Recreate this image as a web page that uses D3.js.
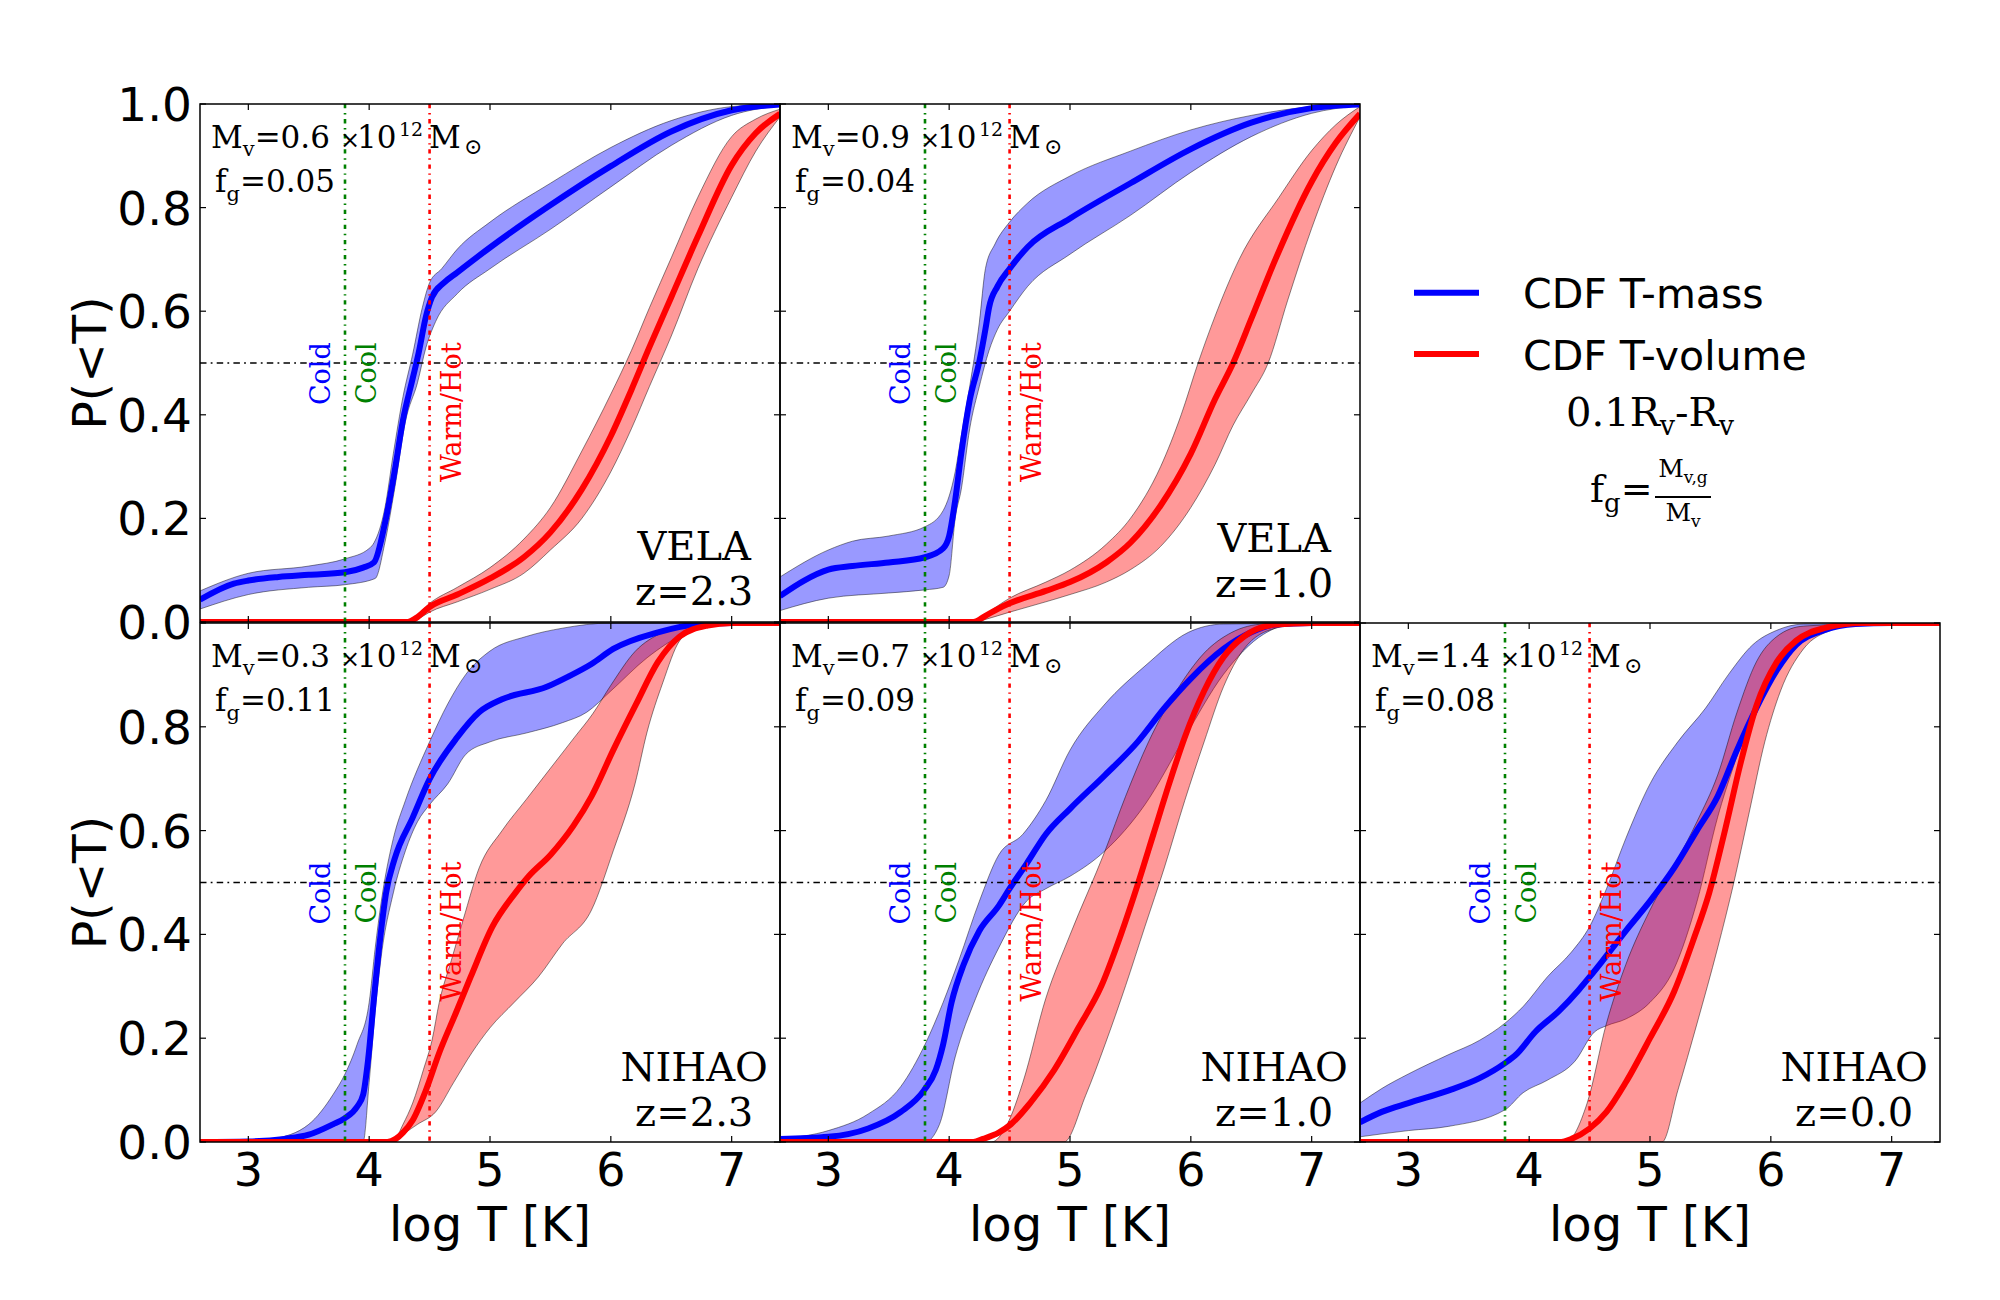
<!DOCTYPE html>
<html><head><meta charset="utf-8">
<script src="https://cdn.jsdelivr.net/npm/d3@7"></script>
<style>body{margin:0;background:#fff} svg{display:block}</style>
</head><body>
<svg id="chart" width="2000" height="1300"></svg>
<script>
// ---------------- DATA ----------------
const xDomain = [2.6, 7.4];
const xTicks = [3, 4, 5, 6, 7];
const yTicks = [0, 0.2, 0.4, 0.6, 0.8, 1.0];
const yTickLabels = ["0.0", "0.2", "0.4", "0.6", "0.8", "1.0"];
const coldCut = 3.8, warmCut = 4.5, halfLevel = 0.5;
const gasLabels = ["Cold", "Cool", "Warm/Hot"];
const legendLabels = ["CDF T-mass", "CDF T-volume"];

const panelSims = ["VELA", "VELA", "NIHAO", "NIHAO", "NIHAO"];
const panelZ = ["z=2.3", "z=1.0", "z=2.3", "z=1.0", "z=0.0"];
const panelMv = ["0.6", "0.9", "0.3", "0.7", "1.4"];
const panelFg = ["0.05", "0.04", "0.11", "0.09", "0.08"];

// VELA z=2.3
const massMed1 = [[2.6,0.043],[2.88,0.074],[3.0,0.08],[3.25,0.087],[3.5,0.091],[3.8,0.096],[3.95,0.105],[4.04,0.115],[4.13,0.19],[4.21,0.29],[4.28,0.39],[4.36,0.47],[4.41,0.52],[4.47,0.59],[4.52,0.627],[4.62,0.655],[4.73,0.675],[5.0,0.723],[5.47,0.80],[6.0,0.88],[6.5,0.947],[7.0,0.988],[7.4,0.999]];
const massHi1 = [[2.6,0.06],[3.0,0.094],[3.5,0.108],[3.8,0.122],[4.0,0.142],[4.04,0.153],[4.13,0.22],[4.2,0.325],[4.28,0.435],[4.36,0.517],[4.44,0.607],[4.5,0.655],[4.6,0.682],[4.73,0.72],[5.0,0.772],[5.5,0.847],[6.0,0.916],[6.5,0.968],[7.0,0.995],[7.4,1.0]];
const massLo1 = [[2.6,0.025],[3.0,0.053],[3.5,0.067],[3.8,0.072],[4.05,0.084],[4.13,0.153],[4.21,0.256],[4.3,0.387],[4.4,0.462],[4.47,0.53],[4.55,0.58],[4.73,0.634],[5.0,0.682],[5.5,0.758],[6.0,0.84],[6.5,0.92],[7.0,0.978],[7.4,0.997]];
const volMed1 = [[2.6,0],[4.32,0],[4.39,0.008],[4.5,0.029],[4.73,0.053],[5.0,0.084],[5.28,0.125],[5.5,0.173],[5.76,0.256],[6.0,0.359],[6.17,0.448],[6.32,0.531],[6.5,0.627],[6.72,0.744],[7.0,0.882],[7.2,0.944],[7.4,0.981]];
const volHi1 = [[2.6,0],[4.3,0],[4.38,0.01],[4.5,0.036],[4.73,0.067],[5.0,0.105],[5.28,0.16],[5.5,0.221],[5.76,0.33],[6.0,0.44],[6.17,0.524],[6.32,0.607],[6.5,0.703],[6.72,0.82],[7.0,0.937],[7.2,0.971],[7.4,0.99]];
const volLo1 = [[2.6,0],[4.34,0],[4.42,0.008],[4.5,0.019],[4.73,0.039],[5.0,0.063],[5.28,0.094],[5.5,0.139],[5.76,0.20],[6.0,0.29],[6.17,0.373],[6.32,0.455],[6.5,0.552],[6.72,0.682],[7.0,0.82],[7.2,0.909],[7.4,0.975]];

// VELA z=1.0
const massMed2 = [[2.6,0.05],[2.8,0.08],[3.0,0.101],[3.2,0.108],[3.5,0.115],[3.8,0.125],[3.95,0.142],[4.0,0.166],[4.05,0.235],[4.1,0.325],[4.17,0.428],[4.25,0.503],[4.3,0.565],[4.33,0.607],[4.4,0.648],[4.5,0.682],[4.65,0.724],[5.0,0.779],[5.5,0.847],[6.0,0.913],[6.5,0.964],[7.0,0.992],[7.4,0.999]];
const massHi2 = [[2.6,0.087],[3.0,0.139],[3.2,0.156],[3.5,0.166],[3.8,0.184],[3.95,0.215],[4.05,0.29],[4.1,0.359],[4.17,0.455],[4.25,0.579],[4.3,0.682],[4.38,0.73],[4.5,0.772],[4.65,0.809],[5.0,0.861],[5.5,0.909],[6.0,0.95],[6.5,0.978],[7.0,0.995],[7.4,1.0]];
const massLo2 = [[2.6,0.022],[3.0,0.046],[3.5,0.056],[3.8,0.062],[3.95,0.067],[4.0,0.09],[4.05,0.2],[4.1,0.256],[4.17,0.373],[4.25,0.455],[4.33,0.524],[4.4,0.565],[4.5,0.60],[4.65,0.648],[5.0,0.71],[5.5,0.785],[6.0,0.868],[6.5,0.937],[7.0,0.982],[7.4,0.997]];
const volMed2 = [[2.6,0],[4.2,0],[4.3,0.012],[4.4,0.025],[4.5,0.036],[4.8,0.06],[5.0,0.077],[5.3,0.115],[5.5,0.153],[5.75,0.225],[6.0,0.325],[6.2,0.43],[6.35,0.5],[6.5,0.585],[6.7,0.7],[7.0,0.85],[7.2,0.925],[7.4,0.981]];
const volHi2 = [[2.6,0],[4.2,0],[4.3,0.015],[4.5,0.046],[4.8,0.077],[5.0,0.1],[5.3,0.15],[5.5,0.2],[5.75,0.3],[5.92,0.4],[6.06,0.5],[6.2,0.59],[6.4,0.7],[6.73,0.82],[7.0,0.91],[7.2,0.96],[7.4,0.995]];
const volLo2 = [[2.6,0],[4.22,0],[4.3,0.005],[4.5,0.019],[4.8,0.039],[5.0,0.053],[5.3,0.077],[5.5,0.101],[5.75,0.146],[6.0,0.221],[6.2,0.304],[6.35,0.38],[6.5,0.44],[6.64,0.5],[6.8,0.62],[7.0,0.76],[7.2,0.88],[7.4,0.975]];

// NIHAO z=2.3
const massMed4 = [[2.6,0],[3.0,0.001],[3.3,0.006],[3.5,0.014],[3.7,0.034],[3.8,0.046],[3.9,0.068],[3.95,0.091],[3.99,0.156],[4.04,0.277],[4.09,0.39],[4.14,0.48],[4.21,0.545],[4.36,0.625],[4.5,0.699],[4.73,0.78],[4.91,0.828],[5.1,0.853],[5.47,0.877],[5.65,0.897],[5.84,0.921],[6.02,0.95],[6.39,0.982],[6.7,0.997],[7.0,1.0],[7.4,1.0]];
const massHi4 = [[2.6,0],[2.9,0],[3.2,0.006],[3.5,0.034],[3.7,0.091],[3.8,0.131],[3.9,0.188],[4.0,0.269],[4.05,0.374],[4.1,0.463],[4.2,0.585],[4.3,0.658],[4.5,0.771],[4.65,0.844],[4.8,0.901],[5.0,0.946],[5.3,0.974],[5.6,0.99],[6.0,1.0],[7.4,1.0]];
const massLo4 = [[2.6,0],[3.95,0],[4.0,0.115],[4.05,0.253],[4.1,0.358],[4.2,0.48],[4.3,0.561],[4.4,0.617],[4.5,0.65],[4.65,0.69],[4.8,0.747],[5.0,0.771],[5.3,0.788],[5.6,0.808],[5.8,0.828],[6.0,0.869],[6.3,0.933],[6.6,0.978],[6.8,0.994],[7.0,0.998],[7.4,1.0]];
const volMed4 = [[2.6,0],[4.15,0],[4.22,0.006],[4.28,0.018],[4.36,0.042],[4.47,0.1],[4.58,0.172],[4.72,0.25],[4.84,0.318],[5.02,0.415],[5.21,0.48],[5.32,0.512],[5.5,0.553],[5.69,0.609],[5.84,0.666],[6.02,0.755],[6.21,0.844],[6.39,0.925],[6.57,0.974],[6.8,0.995],[7.0,1.0],[7.4,1.0]];
const volHi4 = [[2.6,0],[4.15,0],[4.21,0.004],[4.28,0.034],[4.36,0.075],[4.45,0.14],[4.52,0.196],[4.58,0.269],[4.68,0.35],[4.78,0.43],[4.91,0.528],[5.1,0.6],[5.3,0.66],[5.5,0.72],[5.7,0.78],[5.85,0.825],[6.0,0.88],[6.2,0.945],[6.43,0.982],[6.69,0.998],[7.0,1.0],[7.4,1.0]];
const volLo4 = [[2.6,0],[4.2,0],[4.3,0.018],[4.4,0.034],[4.55,0.058],[4.7,0.115],[4.85,0.172],[5.0,0.22],[5.2,0.269],[5.4,0.318],[5.6,0.382],[5.84,0.447],[6.02,0.561],[6.2,0.69],[6.3,0.79],[6.43,0.885],[6.57,0.966],[6.75,0.995],[7.0,1.0],[7.4,1.0]];

// NIHAO z=1.0
const massMed5 = [[2.6,0.006],[3.0,0.01],[3.33,0.026],[3.6,0.058],[3.79,0.099],[3.89,0.139],[3.95,0.188],[4.02,0.269],[4.12,0.342],[4.25,0.407],[4.41,0.455],[4.5,0.488],[4.64,0.536],[4.8,0.593],[5.0,0.642],[5.29,0.707],[5.56,0.771],[5.78,0.836],[6.0,0.893],[6.27,0.95],[6.5,0.982],[6.7,0.997],[7.0,1.0],[7.4,1.0]];
const massHi5 = [[2.6,0.006],[3.0,0.022],[3.33,0.054],[3.6,0.107],[3.8,0.188],[3.95,0.269],[4.08,0.35],[4.25,0.464],[4.41,0.553],[4.61,0.593],[4.8,0.658],[5.0,0.755],[5.29,0.844],[5.62,0.917],[5.98,0.982],[6.27,0.998],[7.4,1.0]];
const massLo5 = [[2.6,0],[3.8,0],[3.92,0.034],[4.05,0.164],[4.22,0.277],[4.41,0.374],[4.64,0.464],[4.8,0.488],[5.0,0.512],[5.29,0.561],[5.62,0.65],[5.95,0.78],[6.27,0.901],[6.6,0.978],[6.83,0.997],[7.4,1.0]];
const volMed5 = [[2.6,0],[4.2,0],[4.28,0.006],[4.41,0.018],[4.51,0.034],[4.67,0.075],[4.87,0.139],[5.07,0.22],[5.26,0.301],[5.42,0.399],[5.56,0.496],[5.69,0.593],[5.82,0.69],[5.95,0.78],[6.11,0.869],[6.27,0.934],[6.44,0.974],[6.7,0.997],[7.0,1.0],[7.4,1.0]];
const volHi5 = [[2.6,0],[4.35,0],[4.48,0.034],[4.61,0.115],[4.8,0.277],[5.0,0.399],[5.29,0.561],[5.46,0.666],[5.65,0.771],[5.88,0.869],[6.11,0.942],[6.34,0.982],[6.6,0.998],[7.0,1.0],[7.4,1.0]];
const volLo5 = [[2.6,0],[4.95,0],[5.13,0.09],[5.29,0.188],[5.46,0.301],[5.62,0.415],[5.78,0.528],[5.95,0.658],[6.11,0.771],[6.27,0.877],[6.44,0.95],[6.7,0.99],[7.0,1.0],[7.4,1.0]];

// NIHAO z=0.0
const massMed6 = [[2.6,0.038],[2.78,0.058],[3.0,0.075],[3.33,0.099],[3.59,0.123],[3.8,0.152],[3.89,0.168],[4.05,0.212],[4.25,0.253],[4.41,0.293],[4.5,0.318],[4.61,0.35],[4.8,0.407],[5.0,0.464],[5.2,0.528],[5.39,0.601],[5.56,0.666],[5.72,0.755],[5.88,0.836],[6.05,0.909],[6.21,0.958],[6.44,0.986],[6.7,0.998],[7.0,1.0],[7.4,1.0]];
const massHi6 = [[2.6,0.075],[2.78,0.103],[3.0,0.131],[3.33,0.168],[3.59,0.196],[3.8,0.229],[3.95,0.261],[4.15,0.318],[4.35,0.366],[4.5,0.415],[4.64,0.488],[4.8,0.585],[5.0,0.69],[5.23,0.771],[5.46,0.836],[5.65,0.901],[5.85,0.958],[6.05,0.986],[6.27,0.998],[7.4,1.0]];
const massLo6 = [[2.6,0.01],[3.0,0.022],[3.33,0.03],[3.8,0.062],[3.95,0.095],[4.15,0.119],[4.38,0.156],[4.54,0.212],[4.64,0.224],[4.8,0.237],[5.0,0.269],[5.2,0.334],[5.39,0.464],[5.56,0.626],[5.69,0.723],[5.88,0.844],[6.05,0.917],[6.27,0.974],[6.6,0.997],[7.4,1.0]];
const volMed6 = [[2.6,0],[4.25,0],[4.35,0.006],[4.5,0.026],[4.64,0.058],[4.8,0.115],[5.0,0.2],[5.2,0.29],[5.36,0.39],[5.49,0.48],[5.62,0.6],[5.75,0.73],[5.88,0.84],[6.05,0.925],[6.21,0.966],[6.44,0.99],[6.76,1.0],[7.4,1.0]];
const volHi6 = [[2.6,0],[4.3,0],[4.48,0.075],[4.64,0.229],[4.8,0.342],[5.0,0.447],[5.23,0.545],[5.39,0.618],[5.56,0.707],[5.72,0.828],[5.88,0.925],[6.05,0.974],[6.27,0.994],[7.0,1.0],[7.4,1.0]];
const volLo6 = [[2.6,0],[5.1,0],[5.23,0.099],[5.39,0.229],[5.56,0.374],[5.69,0.496],[5.82,0.634],[5.95,0.771],[6.08,0.869],[6.27,0.95],[6.5,0.986],[6.76,0.998],[7.0,1.0],[7.4,1.0]];

const panelSeries = [
  {mMed: massMed1, mHi: massHi1, mLo: massLo1, vMed: volMed1, vHi: volHi1, vLo: volLo1},
  {mMed: massMed2, mHi: massHi2, mLo: massLo2, vMed: volMed2, vHi: volHi2, vLo: volLo2},
  {mMed: massMed4, mHi: massHi4, mLo: massLo4, vMed: volMed4, vHi: volHi4, vLo: volLo4},
  {mMed: massMed5, mHi: massHi5, mLo: massLo5, vMed: volMed5, vHi: volHi5, vLo: volLo5},
  {mMed: massMed6, mHi: massHi6, mLo: massLo6, vMed: volMed6, vHi: volHi6, vLo: volLo6}
];

// ---------------- LAYOUT ----------------
const colX = [200, 780, 1360];
const rowY = [104, 623];
const rowH = [518, 519];
const panelW = 580;
const panelCells = [[0,0],[1,0],[0,1],[1,1],[2,1]];
const zLineOffset = [17, 25, 16, 16, 16];

const SANS = "DejaVu Sans, sans-serif";
const SERIF = "DejaVu Serif, serif";
const BLUE = "#0000ff", RED = "#ff0000", GREEN = "#008000";

const svg = d3.select("#chart");
const defs = svg.append("defs");

panelCells.forEach(([c, r], i) => {
  const x0 = colX[c], y0 = rowY[r], h = rowH[r];
  const x = d3.scaleLinear().domain(xDomain).range([x0, x0 + panelW]);
  const y = d3.scaleLinear().domain([0, 1]).range([y0 + h, y0]);
  const s = panelSeries[i];

  defs.append("clipPath").attr("id", "clip" + i)
    .append("rect").attr("x", x0).attr("y", y0).attr("width", panelW).attr("height", h);

  const g = svg.append("g");
  const pg = g.append("g").attr("clip-path", `url(#clip${i})`);

  const line = d3.line().x(d => x(d[0])).y(d => y(d[1])).curve(d3.curveMonotoneX);
  const band = (hi, lo) => line(hi) + line(lo.slice().reverse()).replace(/^M/, "L") + "Z";

  pg.append("path").attr("d", band(s.mHi, s.mLo))
    .attr("fill", BLUE).attr("fill-opacity", 0.4)
    .attr("stroke", "#000").attr("stroke-opacity", 0.45).attr("stroke-width", 1);
  pg.append("path").attr("d", band(s.vHi, s.vLo))
    .attr("fill", RED).attr("fill-opacity", 0.4)
    .attr("stroke", "#000").attr("stroke-opacity", 0.45).attr("stroke-width", 1);

  pg.append("path").attr("d", line(s.mMed)).attr("fill", "none")
    .attr("stroke", BLUE).attr("stroke-width", 6).attr("stroke-linejoin", "round");
  pg.append("path").attr("d", line(s.vMed)).attr("fill", "none")
    .attr("stroke", RED).attr("stroke-width", 6).attr("stroke-linejoin", "round");

  // reference lines
  pg.append("line").attr("x1", x0).attr("x2", x0 + panelW)
    .attr("y1", y(halfLevel)).attr("y2", y(halfLevel))
    .attr("stroke", "#000").attr("stroke-width", 1.3).attr("stroke-dasharray", "6.5,4.2,1.8,4.2");
  pg.append("line").attr("x1", x(coldCut)).attr("x2", x(coldCut))
    .attr("y1", y0).attr("y2", y0 + h)
    .attr("stroke", GREEN).attr("stroke-width", 2.6).attr("stroke-dasharray", "4.3,4.7,1.4,4.7");
  pg.append("line").attr("x1", x(warmCut)).attr("x2", x(warmCut))
    .attr("y1", y0).attr("y2", y0 + h)
    .attr("stroke", RED).attr("stroke-width", 2.6).attr("stroke-dasharray", "4.3,4.7,1.4,4.7");

  // gas-phase labels
  const labY = y(0.54);
  const gl = [
    {t: gasLabels[0], x: x(coldCut) - 15, c: BLUE},
    {t: gasLabels[1], x: x(coldCut) + 31, c: GREEN},
    {t: gasLabels[2], x: x(warmCut) + 31, c: RED}
  ];
  gl.forEach(o => {
    g.append("text").attr("transform", `translate(${o.x},${labY}) rotate(-90)`)
      .attr("text-anchor", "end").attr("font-family", SERIF).attr("font-size", 27)
      .attr("fill", o.c).text(o.t);
  });

  // halo annotations
  const mt = g.append("text").attr("x", x0 + 11).attr("y", y0 + 44)
    .attr("font-family", SERIF).attr("font-size", 31).attr("fill", "#000");
  mt.append("tspan").text("M");
  mt.append("tspan").attr("dy", 8).attr("font-size", 21).text("v");
  mt.append("tspan").attr("dy", -8).text("=" + panelMv[i]);
  mt.append("tspan").attr("x", x0 + 140).attr("font-size", 24).text("\u00d7");
  mt.append("tspan").attr("x", x0 + 157).text("10");
  mt.append("tspan").attr("x", x0 + 199).attr("dy", -12).attr("font-size", 19).text("12");
  mt.append("tspan").attr("x", x0 + 229).attr("dy", 12).text("M");
  mt.append("tspan").attr("x", x0 + 264).attr("dy", 6).attr("font-size", 22).text("\u2299");

  const ft = g.append("text").attr("x", x0 + 15).attr("y", y0 + 88)
    .attr("font-family", SERIF).attr("font-size", 31).attr("fill", "#000");
  ft.append("tspan").text("f");
  ft.append("tspan").attr("dy", 9).attr("font-size", 21).text("g");
  ft.append("tspan").attr("dy", -9).text("=" + panelFg[i]);

  // simulation / redshift label
  const cx = x(6.69);
  g.append("text").attr("x", cx).attr("y", y0 + h - zLineOffset[i] - 45)
    .attr("text-anchor", "middle").attr("font-family", SERIF).attr("font-size", 40).text(panelSims[i]);
  g.append("text").attr("x", cx).attr("y", y0 + h - zLineOffset[i])
    .attr("text-anchor", "middle").attr("font-family", SERIF).attr("font-size", 40).text(panelZ[i]);

  // ticks (inside, all sides)
  const tl = 6;
  xTicks.forEach(t => {
    g.append("line").attr("x1", x(t)).attr("x2", x(t)).attr("y1", y0 + h).attr("y2", y0 + h - tl)
      .attr("stroke", "#000").attr("stroke-width", 1.2);
    g.append("line").attr("x1", x(t)).attr("x2", x(t)).attr("y1", y0).attr("y2", y0 + tl)
      .attr("stroke", "#000").attr("stroke-width", 1.2);
  });
  yTicks.forEach(t => {
    g.append("line").attr("x1", x0).attr("x2", x0 + tl).attr("y1", y(t)).attr("y2", y(t))
      .attr("stroke", "#000").attr("stroke-width", 1.2);
    g.append("line").attr("x1", x0 + panelW).attr("x2", x0 + panelW - tl).attr("y1", y(t)).attr("y2", y(t))
      .attr("stroke", "#000").attr("stroke-width", 1.2);
  });

  // frame
  g.append("rect").attr("x", x0).attr("y", y0).attr("width", panelW).attr("height", h)
    .attr("fill", "none").attr("stroke", "#000").attr("stroke-width", 1.5);

  // tick labels
  if (c === 0) {
    yTicks.forEach((t, k) => {
      if (r === 1 && t === 1.0) return;
      g.append("text").attr("x", x0 - 8).attr("y", y(t)).attr("dy", "0.36em")
        .attr("text-anchor", "end").attr("font-family", SANS).attr("font-size", 47)
        .text(yTickLabels[k]);
    });
    g.append("text").attr("transform", `translate(106,${y0 + h / 2}) rotate(-90)`)
      .attr("text-anchor", "middle").attr("font-family", SANS).attr("font-size", 47).text("P(<T)");
  }
  if (r === 1) {
    xTicks.forEach(t => {
      g.append("text").attr("x", x(t)).attr("y", y0 + h + 44)
        .attr("text-anchor", "middle").attr("font-family", SANS).attr("font-size", 46).text(String(t));
    });
    g.append("text").attr("x", x0 + panelW / 2).attr("y", 1241)
      .attr("text-anchor", "middle").attr("font-family", SANS).attr("font-size", 48).text("log T [K]");
  }
});

// ---------------- LEGEND ----------------
const lg = svg.append("g");
[[BLUE, 292.7, 308], [RED, 354, 370]].forEach(([col, ly, ty], k) => {
  lg.append("line").attr("x1", 1414).attr("x2", 1479).attr("y1", ly).attr("y2", ly)
    .attr("stroke", col).attr("stroke-width", 6);
  lg.append("text").attr("x", 1523).attr("y", ty).attr("font-family", SANS).attr("font-size", 41)
    .text(legendLabels[k]);
});
const rt = lg.append("text").attr("x", 1650).attr("y", 426).attr("text-anchor", "middle")
  .attr("font-family", SERIF).attr("font-size", 40);
rt.append("tspan").text("0.1R");
rt.append("tspan").attr("dy", 9).attr("font-size", 27).text("v");
rt.append("tspan").attr("dy", -9).text("-R");
rt.append("tspan").attr("dy", 9).attr("font-size", 27).text("v");

const fgt = lg.append("text").attr("x", 1590).attr("y", 502).attr("font-family", SERIF).attr("font-size", 38);
fgt.append("tspan").text("f");
fgt.append("tspan").attr("dy", 10).attr("font-size", 26).text("g");
fgt.append("tspan").attr("dy", -10).text("=");
lg.append("line").attr("x1", 1655).attr("x2", 1711).attr("y1", 497).attr("y2", 497)
  .attr("stroke", "#000").attr("stroke-width", 2);
const num = lg.append("text").attr("x", 1683).attr("y", 477).attr("text-anchor", "middle")
  .attr("font-family", SERIF).attr("font-size", 25);
num.append("tspan").text("M");
num.append("tspan").attr("dy", 6).attr("font-size", 17).text("v,g");
const den = lg.append("text").attr("x", 1683).attr("y", 521).attr("text-anchor", "middle")
  .attr("font-family", SERIF).attr("font-size", 25);
den.append("tspan").text("M");
den.append("tspan").attr("dy", 6).attr("font-size", 17).text("v");
</script>
</body></html>
